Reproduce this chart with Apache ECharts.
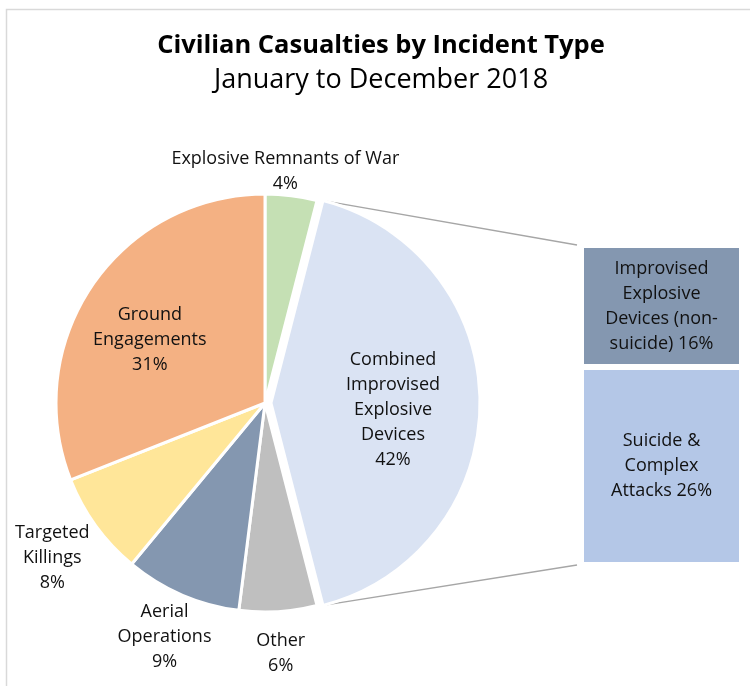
<!DOCTYPE html>
<html>
<head>
<meta charset="utf-8">
<script src="https://cdn.jsdelivr.net/npm/echarts@6/dist/echarts.min.js"></script>
<style>
  html, body { margin: 0; padding: 0; background: #ffffff; }
  #chart { width: 750px; height: 686px; }
</style>
</head>
<body>
<div id="chart"></div>
<script>
// ---- Data -------------------------------------------------------------
// Incident types, clockwise from the top of the pie
const incidentTypes = [
  'Explosive Remnants of War',
  'Combined Improvised Explosive Devices',
  'Other',
  'Aerial Operations',
  'Targeted Killings',
  'Ground Engagements'
];
const incidentLabels = [
  'Explosive Remnants of War',
  'Combined\nImprovised\nExplosive\nDevices',
  'Other',
  'Aerial\nOperations',
  'Targeted\nKillings',
  'Ground\nEngagements'
];
const incidentShares = [4, 42, 6, 9, 8, 31];

// Breakdown of the combined IED slice (bottom to top of the stacked bar)
const iedTypes = ['Suicide & Complex Attacks', 'Improvised Explosive Devices (non-suicide)'];
const iedLabels = ['Suicide &\nComplex\nAttacks', 'Improvised\nExplosive\nDevices (non-\nsuicide)'];
const iedShares = [26, 16];

const titleText = 'Civilian Casualties by Incident Type';
const subtitleText = 'January to December 2018';

// ---- Styling / layout ------------------------------------------------
const FONT = 'Open Sans';
const TEXT_COLOR = '#111111';
const pieColors = ['#c5e0b4', '#dae3f3', '#bfbfbf', '#8497b0', '#ffe699', '#f4b183'];
const barColors = ['#b4c7e7', '#8497b0'];
const PIE_CX = 265, PIE_CY = 403, PIE_R = 209;
const EXPLODE = 6;                 // pull-out distance of the combined IED slice
const EXPLODED_INDEX = 1;
const TITLE_CENTER_X = 381;        // centre of the framed chart area
// distance of each label's centre from the slice's centre point, along its mid angle
const labelDistance = [234, 122, 250, 253, 263, 132];
// small pixel nudges applied after the radial placement
const labelNudge = [[-9, 1], [0, 7], [0, 1], [0, 2], [0, 0], [-6, 11]];

const total = incidentShares.reduce((a, b) => a + b, 0);
const iedTotal = iedShares.reduce((a, b) => a + b, 0);

// clockwise angles (degrees from 12 o'clock) of each slice
const sliceAngles = [];
(function () {
  let acc = 0;
  incidentShares.forEach(v => {
    const a0 = acc / total * 360;
    acc += v;
    const a1 = acc / total * 360;
    sliceAngles.push({ a0, a1, mid: (a0 + a1) / 2 });
  });
})();
const rad = d => d * Math.PI / 180;

// centre of the pulled-out slice
const explodedMid = rad(sliceAngles[EXPLODED_INDEX].mid);
const EX_CX = PIE_CX + EXPLODE * Math.sin(explodedMid);
const EX_CY = PIE_CY - EXPLODE * Math.cos(explodedMid);

function pieSeries(center, visible) {
  const [cx, cy] = center;
  return {
    type: 'pie',
    center: [cx, cy],
    radius: PIE_R,
    startAngle: 90,
    clockwise: true,
    silent: true,
    emphasis: { disabled: true },
    labelLine: { show: false },
    label: {
      show: true,
      position: 'inside',
      width: 260,
      overflow: 'none',
      fontFamily: FONT,
      fontSize: 18,
      lineHeight: 25,
      color: TEXT_COLOR,
      formatter: p => incidentLabels[p.dataIndex] + '\n' + p.value + '%'
    },
    labelLayout: function (params) {
      const i = params.dataIndex;
      const m = rad(sliceAngles[i].mid);
      const d = labelDistance[i];
      return {
        x: cx + d * Math.sin(m) + labelNudge[i][0],
        y: cy - d * Math.cos(m) + labelNudge[i][1],
        align: 'center',
        verticalAlign: 'middle'
      };
    },
    data: incidentTypes.map((name, i) => {
      const on = visible(i);
      return {
        name,
        value: incidentShares[i],
        itemStyle: on
          ? { color: pieColors[i], borderColor: '#ffffff', borderWidth: 3 }
          : { color: 'rgba(0,0,0,0)', borderWidth: 0 },
        label: { show: on }
      };
    })
  };
}

const chart = echarts.init(document.getElementById('chart'), null, { renderer: 'canvas' });

const option = {
  animation: false,
  backgroundColor: '#ffffff',
  grid: { left: 581, top: 245, width: 161, height: 320 },
  xAxis: { type: 'category', data: ['IED'], show: false },
  yAxis: { type: 'value', min: 0, max: iedTotal, show: false },
  series: [
    pieSeries([PIE_CX, PIE_CY], i => i !== EXPLODED_INDEX),
    pieSeries([EX_CX, EX_CY], i => i === EXPLODED_INDEX),
    ...iedTypes.map((name, i) => ({
      type: 'bar',
      name,
      stack: 'ied',
      barWidth: '100%',
      silent: true,
      data: [iedShares[i]],
      emphasis: { disabled: true },
      itemStyle: { color: barColors[i], borderColor: '#ffffff', borderWidth: 3 },
      label: {
        show: true,
        position: 'inside',
        fontFamily: FONT,
        fontSize: 18,
        lineHeight: 25,
        color: TEXT_COLOR,
        formatter: p => iedLabels[i] + ' ' + p.value + '%'
      }
    }))
  ],
  graphic: [
    {
      type: 'rect',
      silent: true,
      shape: { x: 6.5, y: 9.5, width: 900, height: 900 },
      style: { fill: 'none', stroke: '#d9d9d9', lineWidth: 1.5 }
    },
    {
      type: 'text',
      silent: true,
      x: TITLE_CENTER_X,
      y: 46,
      style: {
        text: titleText,
        fontFamily: FONT, fontWeight: 'bold', fontSize: 25.5, fill: '#000000',
        align: 'center', verticalAlign: 'middle'
      }
    },
    {
      type: 'text',
      silent: true,
      x: TITLE_CENTER_X,
      y: 80,
      style: {
        text: subtitleText,
        fontFamily: FONT, fontWeight: 'normal', fontSize: 27, fill: '#000000',
        align: 'center', verticalAlign: 'middle'
      }
    }
  ]
};

chart.setOption(option);

// Connector lines from the pulled-out slice's edges to the stacked bar
(function () {
  const s = sliceAngles[EXPLODED_INDEX];
  const p0 = [EX_CX + PIE_R * Math.sin(rad(s.a0)), EX_CY - PIE_R * Math.cos(rad(s.a0))];
  const p1 = [EX_CX + PIE_R * Math.sin(rad(s.a1)), EX_CY - PIE_R * Math.cos(rad(s.a1))];
  const topY = chart.convertToPixel({ yAxisIndex: 0 }, iedTotal);
  const botY = chart.convertToPixel({ yAxisIndex: 0 }, 0);
  const rect = chart.getModel().getComponent('grid', 0).coordinateSystem.getRect();
  const bx = rect.x - 4;
  chart.setOption({
    graphic: option.graphic.concat([
      {
        type: 'line', silent: true,
        shape: { x1: p0[0], y1: p0[1], x2: bx, y2: topY },
        style: { stroke: '#a6a6a6', lineWidth: 1.3 }
      },
      {
        type: 'line', silent: true,
        shape: { x1: p1[0], y1: p1[1], x2: bx, y2: botY },
        style: { stroke: '#a6a6a6', lineWidth: 1.3 }
      }
    ])
  });
})();
</script>
</body>
</html>
